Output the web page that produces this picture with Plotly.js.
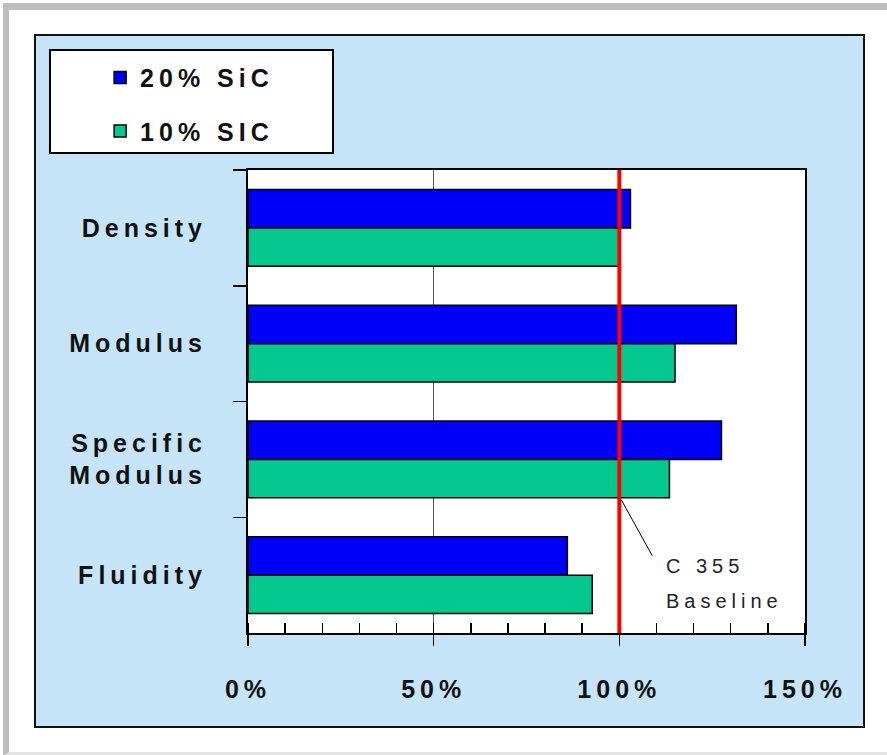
<!DOCTYPE html>
<html>
<head>
<meta charset="utf-8">
<script src="https://cdn.plot.ly/plotly-3.0.1.min.js"></script>
<style>
  html, body { margin: 0; padding: 0; background: #ffffff; width: 887px; height: 755px; overflow: hidden; position: relative; }
  #frame { position: absolute; left: 3px; top: 3px; width: 900px; height: 742px;
           border-top: 7px solid #BDBDBD; border-left: 6px solid #BDBDBD; border-bottom: 4px solid #E4E4E4; box-sizing: content-box; }
  #panel { position: absolute; left: 34px; top: 34px; border: 2px solid #111; width: 827px; height: 690px; }
  #chart { width: 827px; height: 690px; }
  svg text { letter-spacing: 5px; }
</style>
</head>
<body>
<div id="frame"></div>
<div id="panel"><div id="chart"></div></div>
<script>
// ---- data ----
const categories = ["Density", "Modulus", "Specific<br>Modulus", "Fluidity"];
const seriesNames = ["20% SiC", "10% SIC"];
const sic20 = [103, 131.5, 127.5, 86];
const sic10 = [100, 115, 113.5, 92.7];
const baselineValue = 100;
const baselineLabelLines = ["C 355", "Baseline"];
const xTickVals = [0, 50, 100, 150];
const xTickText = ["0%", "50%", "100%", "150%"];

// ---- chart ----
const traces = [
  { type: "bar", orientation: "h", name: seriesNames[0], y: categories, x: sic20,
    legendgroup: "a", marker: { color: "#0000F8", line: { color: "#000", width: 1.5 } }, hoverinfo: "x+y" },
  { type: "bar", orientation: "h", name: seriesNames[1], y: categories, x: sic10,
    legendgroup: "b", marker: { color: "#05C88E", line: { color: "#000", width: 1.5 } }, hoverinfo: "x+y" }
];

const pointY = 2.35; // bottom edge of the Specific Modulus group, where the leader starts

const layout = {
  width: 827, height: 690,
  margin: { l: 212, r: 58, t: 134, b: 93, pad: 0 },
  paper_bgcolor: "#C6E4F8",
  plot_bgcolor: "#FFFFFF",
  barmode: "group",
  bargap: 0.335,
  bargroupgap: 0,
  font: { family: "Liberation Sans, Arial, sans-serif", color: "#111" },
  xaxis: {
    range: [0, 150], tickvals: xTickVals, ticktext: xTickText,
    ticks: "outside", ticklen: 11, tickwidth: 1.5, tickcolor: "#000",
    minor: { dtick: 10, tick0: 0, ticks: "inside", ticklen: 10, tickwidth: 1.5, tickcolor: "#000", showgrid: false },
    showgrid: true, gridcolor: "#555", gridwidth: 1,
    showline: true, linecolor: "#000", linewidth: 2, mirror: true,
    zeroline: false, ticklabelstandoff: 22,
    tickfont: { size: 25, weight: "bold", color: "#111" }
  },
  yaxis: {
    type: "category", range: [3.5, -0.5], tickson: "boundaries",
    ticks: "outside", ticklen: 13, tickwidth: 1.5, tickcolor: "#000",
    showgrid: false, showline: true, linecolor: "#000", linewidth: 2, mirror: true,
    zeroline: false, ticklabelstandoff: 34,
    tickfont: { size: 25, weight: "bold", color: "#111" }
  },
  showlegend: true,
  legend: {
    x: -0.2655, y: 1.249, xanchor: "left", yanchor: "top",
    bgcolor: "rgba(0,0,0,0)", borderwidth: 0,
    traceorder: "grouped", tracegroupgap: 18,
    font: { size: 25, weight: "bold", color: "#111" }
  },
  shapes: [
    { type: "rect", xref: "paper", yref: "paper", x0: -0.3555, x1: 0.1526, y0: 1.0367, y1: 1.2592,
      fillcolor: "#FFFFFF", line: { color: "#000", width: 2 }, layer: "above" },
    { type: "line", xref: "x", yref: "paper", x0: baselineValue, x1: baselineValue, y0: 0, y1: 1,
      line: { color: "#FF0000", width: 4 }, layer: "above" },
    { type: "line", xref: "x", yref: "y", xsizemode: "pixel", ysizemode: "pixel",
      xanchor: baselineValue, yanchor: pointY, x0: 2, x1: 33, y0: 0, y1: -56,
      line: { color: "#000", width: 1 }, layer: "above" }
  ],
  annotations: [
    { x: baselineValue, y: pointY, xref: "x", yref: "y", text: baselineLabelLines[0],
      showarrow: false, xanchor: "left", yanchor: "middle", xshift: 45, yshift: -66,
      font: { size: 20, color: "#222" } },
    { x: baselineValue, y: pointY, xref: "x", yref: "y", text: baselineLabelLines[1],
      showarrow: false, xanchor: "left", yanchor: "middle", xshift: 45, yshift: -101,
      font: { size: 20, color: "#222" } }
  ]
};

Plotly.newPlot("chart", traces, layout, { displayModeBar: false, staticPlot: true });
</script>
</body>
</html>
